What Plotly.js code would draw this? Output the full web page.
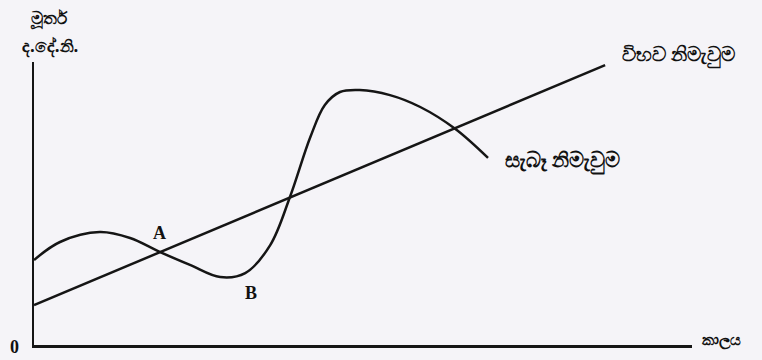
<!DOCTYPE html>
<html>
<head>
<meta charset="utf-8">
<script src="https://cdn.plot.ly/plotly-3.0.1.min.js"></script>
<style>
  html, body { margin: 0; padding: 0; background: #f5f4f8; }
  #chart { width: 762px; height: 360px; }
</style>
</head>
<body>
<div id="chart"></div>
<script>
// potential output: straight trend line
var potentialX = [0, 86.8];
var potentialY = [14.1, 98.9];

// actual output: cycles around the trend
var actualX = [0, 3.95, 10.0, 14.6, 19.1, 23.7, 28.3, 32.1, 35.9, 38.9, 42.0, 44.2, 46.5, 49.5, 54.1, 58.7, 64.0, 69.0];
var actualY = [30.0, 36.4, 39.9, 37.8, 32.9, 28.3, 24.0, 25.4, 35.3, 52.3, 73.5, 84.8, 89.4, 90.1, 88.3, 84.1, 76.4, 66.1];

var sinFont = {family: 'Noto Sans, DejaVu Sans, sans-serif', size: 21, color: '#111', weight: 'bold'};
var letterFont = {family: 'Liberation Serif, serif', size: 18, color: '#111', weight: 'bold'};

var potential = {
    x: potentialX,
    y: potentialY,
    mode: 'lines',
    line: {color: '#151515', width: 2.5},
    cliponaxis: false,
    hoverinfo: 'skip'
};
var actual = {
    x: actualX,
    y: actualY,
    mode: 'lines',
    line: {color: '#151515', width: 2.5, shape: 'spline', smoothing: 1},
    cliponaxis: false,
    hoverinfo: 'skip'
};

// labels placed in paper units (axes span 0..100, so paper = value / 100)
function note(text, x, y, anchor, font) {
    return {
        text: text, x: x / 100, y: y / 100, xref: 'paper', yref: 'paper',
        showarrow: false, xanchor: anchor || 'left', yanchor: 'middle',
        font: font
    };
}

var layout = {
    width: 762,
    height: 360,
    margin: {l: 34, r: 70, t: 62, b: 15},
    paper_bgcolor: '#f5f4f8',
    plot_bgcolor: '#f5f4f8',
    showlegend: false,
    xaxis: {
        range: [0, 100], showline: true, linecolor: '#151515', linewidth: 2.5,
        showgrid: false, zeroline: false, showticklabels: false, ticks: ''
    },
    yaxis: {
        range: [0, 100], showline: true, linecolor: '#151515', linewidth: 2.5,
        showgrid: false, zeroline: false, showticklabels: false, ticks: ''
    },
    annotations: [
        note('විභව නිමැවුම', 89.1, 102.5, 'left', Object.assign({}, sinFont, {size: 20})),
        note('සැබෑ නිමැවුම', 71.3, 65.4, 'left', sinFont),
        note('A', 19.1, 39.6, 'center', letterFont),
        note('B', 33.0, 18.4, 'center', letterFont),
        note('කාලය', 101.2, 1.8, 'left', Object.assign({}, sinFont, {size: 15})),
        note('0', -2.9, -0.7, 'center', letterFont),
        note('මූර්ත', 2.3, 115.5, 'center', Object.assign({}, sinFont, {size: 17})),
        note('ද.දේ.නි.', 2.5, 105.7, 'center', Object.assign({}, sinFont, {size: 17}))
    ]
};

Plotly.newPlot('chart', [potential, actual], layout, {displayModeBar: false, staticPlot: true});
</script>
</body>
</html>
